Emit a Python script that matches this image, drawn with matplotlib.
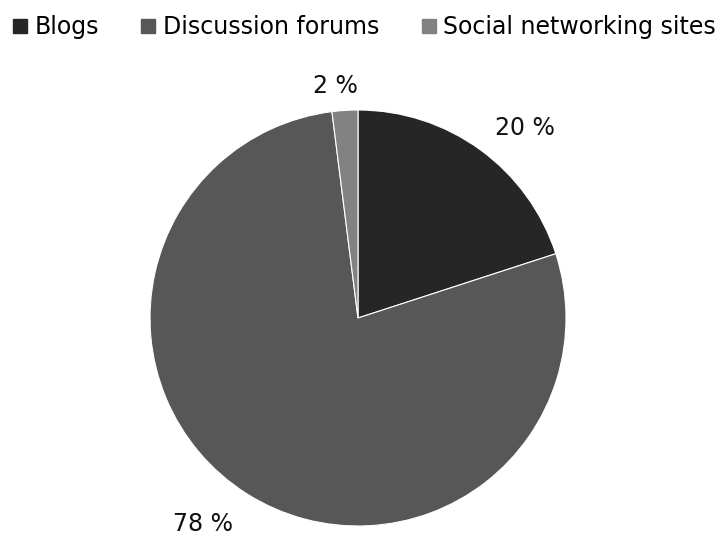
import numpy as np
import matplotlib
matplotlib.use("Agg")
import matplotlib.pyplot as plt
from matplotlib.lines import Line2D

categories = ["Blogs", "Discussion forums", "Social networking sites"]
shares = [20, 78, 2]
colors = ["#262626", "#575757", "#828282"]

fig = plt.figure(figsize=(7.22, 5.37), dpi=100)
# square axes so the pie keeps a radius of ~208 px around (358, 318)
ax = fig.add_axes([(358 - 208) / 722, 1 - (318 + 208) / 537, 416 / 722, 416 / 537])

wedges, _ = ax.pie(shares, colors=colors, startangle=90, counterclock=False,
                   radius=1.0, wedgeprops=dict(edgecolor="white", linewidth=0.8))
ax.set_xlim(-1, 1)
ax.set_ylim(-1, 1)
ax.set_aspect("equal")
ax.axis("off")

# labels sit just outside the rim, anchored by the corner nearest the centre
for w, val in zip(wedges, shares):
    mid = np.deg2rad((w.theta1 + w.theta2) / 2)
    c, s = np.cos(mid), np.sin(mid)
    ha = "center" if abs(c) < 0.2 else ("left" if c > 0 else "right")
    va = "bottom" if s > 0 else "top"
    dx = -8 if ha == "center" else 0
    ax.annotate(f"{val} %", (1.12 * c, 1.08 * s), xytext=(dx, -4),
                textcoords="offset pixels", ha=ha, va=va, fontsize=17,
                family="DejaVu Sans", color="#111111", annotation_clip=False)

handles = [Line2D([], [], marker="s", linestyle="none", markersize=9.5,
                  markerfacecolor=col, markeredgecolor=col) for col in colors]
fig.legend(handles, categories, loc="upper center", bbox_to_anchor=(0.503, 1.0),
           ncol=3, frameon=False, handlelength=0.8, handletextpad=0.2,
           columnspacing=1.7, borderaxespad=0.25,
           prop=dict(family="DejaVu Sans", size=17))

fig.savefig("out.png", dpi=100)
